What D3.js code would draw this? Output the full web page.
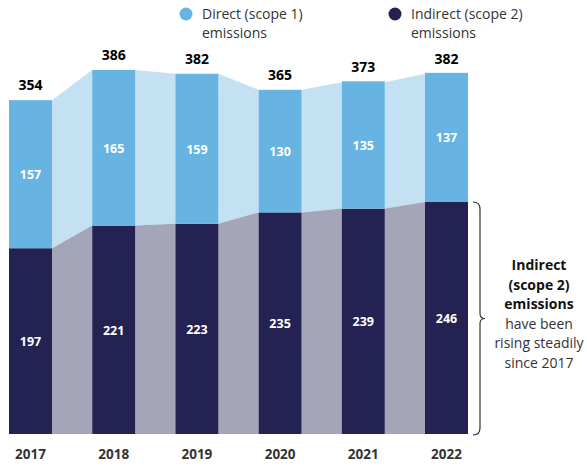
<!DOCTYPE html>
<html><head><meta charset="utf-8">
<script src="https://cdn.jsdelivr.net/npm/d3@7"></script>
<style>
body{margin:0;background:#fff;}
svg{display:block;font-family:"Open Sans",sans-serif;}
</style></head>
<body><svg id="c" width="587" height="466"></svg>
<script>
const years = ["2017","2018","2019","2020","2021","2022"];
const direct = [157,165,159,130,135,137];
const indirect = [197,221,223,235,239,246];
const totals = [354,386,382,365,373,382];
const seriesNames = ["Direct (scope 1)","Indirect (scope 2)"];
const noteBold = ["Indirect","(scope 2)","emissions"];
const noteRegular = ["have been","rising steadily","since 2017"];

const colors = {direct:"#67b3e1", indirect:"#242252", directLink:"#c3e1f3", indirectLink:"#a5a5b9"};
const svg = d3.select("#c");
const x = d3.scaleBand().domain(years).range([9,468]).paddingInner(0.483).paddingOuter(0);
const y = d3.scaleLinear().domain([0,386]).range([434,70]);
const bw = x.bandwidth();

const data = years.map((yr,i)=>({yr, d:direct[i], ind:indirect[i], t:totals[i]}));

// connectors
for(let i=0;i<data.length-1;i++){
  const a=data[i], b=data[i+1];
  const x0=x(a.yr)+bw, x1=x(b.yr);
  svg.append("path").attr("fill",colors.directLink)
    .attr("d",`M${x0},${y(a.t)}L${x1},${y(b.t)}L${x1},${y(b.ind)}L${x0},${y(a.ind)}Z`);
  svg.append("path").attr("fill",colors.indirectLink)
    .attr("d",`M${x0},${y(a.ind)}L${x1},${y(b.ind)}L${x1},${y(0)}L${x0},${y(0)}Z`);
}
// bars
svg.selectAll(".bi").data(data).join("rect").attr("x",d=>x(d.yr)).attr("width",bw)
  .attr("y",d=>y(d.ind)).attr("height",d=>y(0)-y(d.ind)).attr("fill",colors.indirect);
svg.selectAll(".bd").data(data).join("rect").attr("x",d=>x(d.yr)).attr("width",bw)
  .attr("y",d=>y(d.ind+d.d)).attr("height",d=>y(d.ind)-y(d.ind+d.d)).attr("fill",colors.direct);
// labels in bars
svg.selectAll(".li").data(data).join("text").attr("x",d=>x(d.yr)+bw/2).attr("y",d=>(y(d.ind)+y(0))/2+5)
  .attr("text-anchor","middle").attr("fill","#fff").attr("font-weight","bold").attr("font-size",12.5).text(d=>d.ind);
svg.selectAll(".ld").data(data).join("text").attr("x",d=>x(d.yr)+bw/2).attr("y",d=>(y(d.ind)+y(d.ind+d.d))/2+5)
  .attr("text-anchor","middle").attr("fill","#fff").attr("font-weight","bold").attr("font-size",12.5).text(d=>d.d);
svg.selectAll(".lt").data(data).join("text").attr("x",d=>x(d.yr)+bw/2).attr("y",d=>y(d.t)-10)
  .attr("text-anchor","middle").attr("fill","#000").attr("font-weight","bold").attr("font-size",14).text(d=>d.t);
// x axis labels
const ax = svg.append("g").attr("transform",`translate(0,${y(0)})`)
  .call(d3.axisBottom(x).tickSize(0).tickPadding(15));
ax.select(".domain").remove();
ax.selectAll("text").attr("font-family","Open Sans").attr("font-weight","bold").attr("font-size",13.5).attr("fill","#333");

// legend
const leg = [{n:seriesNames[0],c:colors.direct,x:186},{n:seriesNames[1],c:colors.indirect,x:395}];
leg.forEach(l=>{
  svg.append("circle").attr("cx",l.x).attr("cy",14).attr("r",6.5).attr("fill",l.c);
  svg.append("text").attr("x",l.x+16).attr("y",19).attr("font-size",14).attr("fill","#333").text(l.n);
  svg.append("text").attr("x",l.x+16).attr("y",38).attr("font-size",14).attr("fill","#333").text("emissions");
});

// bracket
const bx=473, bt=y(indirect[5]), bb=y(0)+1, bm=(bt+bb)/2;
svg.append("path").attr("fill","none").attr("stroke","#333").attr("stroke-width",1.2)
  .attr("d",`M${bx},${bt} Q${bx+7},${bt} ${bx+7},${bt+7} L${bx+7},${bm-5} Q${bx+7},${bm} ${bx+12},${bm} Q${bx+7},${bm} ${bx+7},${bm+5} L${bx+7},${bb-7} Q${bx+7},${bb} ${bx},${bb}`);

// note
const nx=539;
noteBold.forEach((t,i)=>svg.append("text").attr("x",nx).attr("y",270+i*19.5).attr("text-anchor","middle")
  .attr("font-weight","bold").attr("font-size",14).attr("fill","#111").text(t));
noteRegular.forEach((t,i)=>svg.append("text").attr("x",nx).attr("y",270+(i+3)*19.5).attr("text-anchor","middle")
  .attr("font-size",14).attr("fill","#333").text(t));
</script></body></html>
